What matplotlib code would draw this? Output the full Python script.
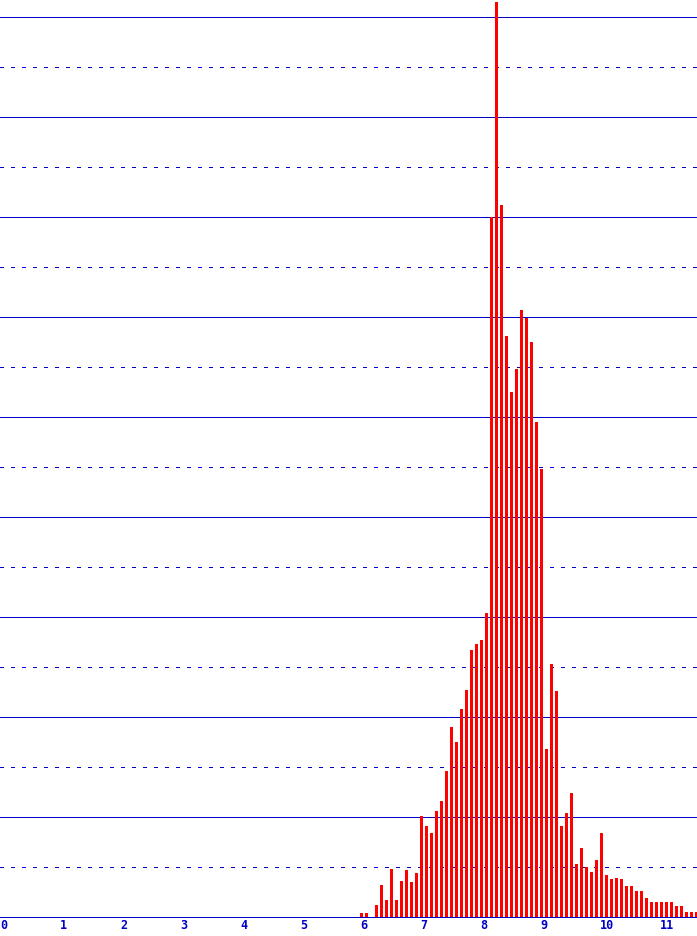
import matplotlib
matplotlib.use("Agg")
import matplotlib.pyplot as plt
import numpy as np

# Data: histogram bins (start at 6.0, width 1/12) and heights
bin_start = 6.0
bin_step = 1.0 / 12.0
heights = [4, 4, 0, 12, 32, 17, 48, 17, 36, 47, 35, 44,
           101, 91, 84, 106, 116, 146, 190, 175, 208, 227, 267, 273,
           277, 304, 700, 915, 712, 581, 525, 548, 607, 599, 575, 495,
           448, 168, 253, 226, 91, 104, 124, 53, 69, 50, 45, 57,
           84, 42, 38, 39, 38, 31, 31, 26, 26, 19, 15, 15,
           15, 15, 15, 11, 11, 5, 5, 5]
x_ticks = list(range(12))
x_tick_labels = [str(v) for v in x_ticks]
solid_grid = list(range(100, 901, 100))
dashed_grid = list(range(50, 901, 100))

W, H = 697, 937
fig = plt.figure(figsize=(W / 100, H / 100), dpi=100)
ax = fig.add_axes([0, 19 / H, 1, 1 - 19 / H])
ax.set_xlim(0, W / 60.0)
ax.set_ylim(0, 918)

blue = "#0000C8"
for y in solid_grid:
    ax.axhline(y, color=blue, lw=0.72, zorder=1, antialiased=False)
for y in dashed_grid:
    ax.axhline(y, color=blue, lw=0.72, linestyle=(0, (3.0, 7.0)),
               zorder=1, antialiased=False)

xs = bin_start + np.arange(len(heights)) * bin_step
ax.bar(xs, heights, width=3.0 / 60, align="edge", color="#FF0000",
       linewidth=0, zorder=2, antialiased=False)

ax.axhline(0, color=blue, lw=0.72, zorder=3, clip_on=False, antialiased=False)

for s in ax.spines.values():
    s.set_visible(False)
ax.set_yticks([])
ax.set_xticks(x_ticks)
ax.set_xticklabels(x_tick_labels, color=blue, fontsize=8.5,
                   fontfamily="DejaVu Sans Mono", fontweight="bold")
for lab in ax.get_xticklabels():
    lab.set_ha("left")
ax.tick_params(axis="x", length=0, pad=1)

fig.savefig("out.png", dpi=100)
